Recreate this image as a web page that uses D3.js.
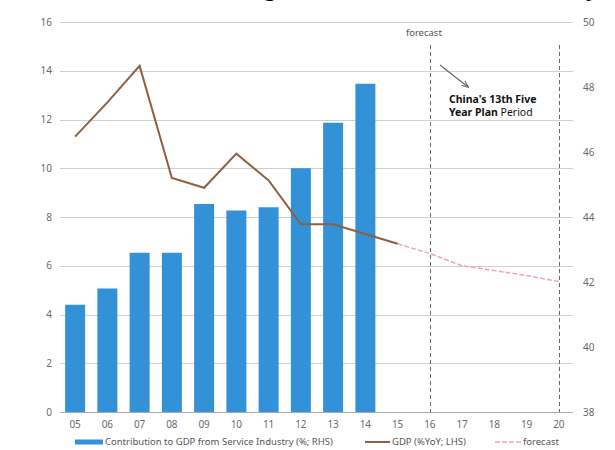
<!DOCTYPE html>
<html>
<head>
<meta charset="utf-8">
<script src="https://cdn.jsdelivr.net/npm/d3@7"></script>
<style>
  body { margin: 0; background: #fff; }
  svg { font-family: "Noto Sans", "Open Sans", sans-serif; }
</style>
</head>
<body>
<script>
// x categories (years, 2005-2020)
var years = ["05", "06", "07", "08", "09", "10", "11", "12", "13", "14", "15", "16", "17", "18", "19", "20"];
// service industry share of GDP (%; RHS), 2005-2014
var serviceYears = ["05", "06", "07", "08", "09", "10", "11", "12", "13", "14"];
var serviceShare = [41.3, 41.8, 42.9, 42.9, 44.4, 44.2, 44.3, 45.5, 46.9, 48.1];
// GDP growth (%YoY; LHS), actual
var gdpYears = ["05", "06", "07", "08", "09", "10", "11", "12", "13", "14", "15"];
var gdpValues = [11.3, 12.7, 14.2, 9.6, 9.2, 10.6, 9.5, 7.7, 7.7, 7.3, 6.9];
// GDP growth forecast
var forecastYears = ["15", "16", "17", "18", "19", "20"];
var forecastValues = [6.9, 6.5, 6.0, 5.8, 5.6, 5.35];
// tick labels
var leftTicks = [0, 2, 4, 6, 8, 10, 12, 14, 16];
var rightTicks = [38, 40, 42, 44, 46, 48, 50];
var periodMarks = ["16", "20"];

var width = 615, height = 450;
var margin = {top: 22, right: 40, bottom: 38, left: 59};
var plotRight = 575, plotBottom = 412;

var svg = d3.select("body").append("svg")
    .attr("width", width)
    .attr("height", height);

// cropped title at the very top (only its descenders show in the reference)
svg.append("text")
    .attr("x", 598)
    .attr("y", -4)
    .attr("text-anchor", "end")
    .attr("font-size", 21)
    .attr("font-weight", "bold")
    .attr("fill", "#000")
    .text("China's GDP growth and the service industry");

var x = d3.scaleBand()
    .domain(years)
    .range([margin.left, plotRight])
    .paddingInner(0.38)
    .paddingOuter(0.19);

var yLeft = d3.scaleLinear().domain([0, 16]).range([plotBottom, margin.top]);
var yRight = d3.scaleLinear().domain([38, 50]).range([plotBottom, margin.top]);

function cx(d) { return x(d) + x.bandwidth() / 2; }

// gridlines (LHS)
svg.append("g")
    .selectAll("line")
    .data(leftTicks)
    .enter().append("line")
    .attr("x1", 60)
    .attr("x2", 573)
    .attr("y1", function(d) { return Math.round(yLeft(d)) + 0.5; })
    .attr("y2", function(d) { return Math.round(yLeft(d)) + 0.5; })
    .attr("stroke", function(d) { return d === 0 ? "#a8a8a8" : "#cfcfcf"; })
    .attr("stroke-width", 1);

// left labels
svg.append("g")
    .selectAll("text")
    .data(leftTicks)
    .enter().append("text")
    .attr("x", 52)
    .attr("y", function(d) { return yLeft(d); })
    .attr("dy", "0.35em")
    .attr("text-anchor", "end")
    .attr("font-size", 10)
    .attr("fill", "#6a6a6a")
    .text(function(d) { return d; });

// right labels
svg.append("g")
    .selectAll("text")
    .data(rightTicks)
    .enter().append("text")
    .attr("x", 583)
    .attr("y", function(d) { return yRight(d); })
    .attr("dy", "0.35em")
    .attr("text-anchor", "start")
    .attr("font-size", 10)
    .attr("fill", "#6a6a6a")
    .text(function(d) { return d; });

// bars
svg.append("g")
    .selectAll("rect")
    .data(serviceYears.map(function(d, i) { return {year: d, value: serviceShare[i]}; }))
    .enter().append("rect")
    .attr("x", function(d) { return x(d.year); })
    .attr("y", function(d) { return yRight(d.value); })
    .attr("width", x.bandwidth())
    .attr("height", function(d) { return plotBottom - yRight(d.value); })
    .attr("fill", "#3391d7");

// period dashed lines
svg.append("g")
    .selectAll("line")
    .data(periodMarks)
    .enter().append("line")
    .attr("x1", function(d) { return Math.round(cx(d)) + 0.5; })
    .attr("x2", function(d) { return Math.round(cx(d)) + 0.5; })
    .attr("y1", 45)
    .attr("y2", plotBottom)
    .attr("stroke", "#666")
    .attr("stroke-width", 1)
    .attr("stroke-dasharray", "4,3");

svg.append("text")
    .attr("x", cx("16") - 6)
    .attr("y", 36)
    .attr("text-anchor", "middle")
    .attr("font-size", 9.5)
    .attr("fill", "#555")
    .text("forecast");

// GDP line
var line = d3.line()
    .x(function(d) { return cx(d.year); })
    .y(function(d) { return yLeft(d.value); });

svg.append("path")
    .datum(forecastYears.map(function(d, i) { return {year: d, value: forecastValues[i]}; }))
    .attr("d", line)
    .attr("fill", "none")
    .attr("stroke", "#eea7b2")
    .attr("stroke-width", 1.5)
    .attr("stroke-dasharray", "5,2");

svg.append("path")
    .datum(gdpYears.map(function(d, i) { return {year: d, value: gdpValues[i]}; }))
    .attr("d", line)
    .attr("fill", "none")
    .attr("stroke", "#8e5f42")
    .attr("stroke-width", 2);

// annotation arrow
var defs = svg.append("defs");
defs.append("marker")
    .attr("id", "arrow")
    .attr("viewBox", "0 0 10 10")
    .attr("refX", 9)
    .attr("refY", 5)
    .attr("markerWidth", 6)
    .attr("markerHeight", 6)
    .attr("orient", "auto")
    .append("path")
    .attr("d", "M0,1 L10,5 L0,9")
    .attr("fill", "none")
    .attr("stroke", "#666")
    .attr("stroke-width", 1.5);

svg.append("line")
    .attr("x1", 440)
    .attr("y1", 65)
    .attr("x2", 468)
    .attr("y2", 87)
    .attr("stroke", "#666")
    .attr("stroke-width", 1.2)
    .attr("marker-end", "url(#arrow)");

var note = svg.append("text")
    .attr("x", 449)
    .attr("font-size", 10.5)
    .attr("fill", "#111");
note.append("tspan")
    .attr("x", 449)
    .attr("y", 103)
    .attr("font-weight", "bold")
    .text("China's 13th Five");
note.append("tspan")
    .attr("x", 449)
    .attr("y", 116)
    .attr("font-weight", "bold")
    .text("Year Plan ");
note.append("tspan")
    .text("Period");

// x labels
svg.append("g")
    .selectAll("text")
    .data(years)
    .enter().append("text")
    .attr("x", function(d) { return cx(d); })
    .attr("y", 428)
    .attr("text-anchor", "middle")
    .attr("font-size", 10)
    .attr("fill", "#6a6a6a")
    .text(function(d) { return d; });

// legend
var legendY = 442;
svg.append("rect")
    .attr("x", 75)
    .attr("y", legendY - 2.5)
    .attr("width", 28)
    .attr("height", 5)
    .attr("fill", "#3391d7");
svg.append("text")
    .attr("x", 105)
    .attr("y", legendY)
    .attr("dy", "0.35em")
    .attr("font-size", 9.5)
    .attr("fill", "#555")
    .text("Contribution to GDP from Service Industry (%; RHS)");

svg.append("line")
    .attr("x1", 365)
    .attr("x2", 390)
    .attr("y1", legendY)
    .attr("y2", legendY)
    .attr("stroke", "#8e5f42")
    .attr("stroke-width", 2);
svg.append("text")
    .attr("x", 392)
    .attr("y", legendY)
    .attr("dy", "0.35em")
    .attr("font-size", 9.5)
    .attr("fill", "#555")
    .text("GDP (%YoY; LHS)");

svg.append("line")
    .attr("x1", 495)
    .attr("x2", 521)
    .attr("y1", legendY)
    .attr("y2", legendY)
    .attr("stroke", "#eea7b2")
    .attr("stroke-width", 1.5)
    .attr("stroke-dasharray", "5,2");
svg.append("text")
    .attr("x", 523)
    .attr("y", legendY)
    .attr("dy", "0.35em")
    .attr("font-size", 9.5)
    .attr("fill", "#555")
    .text("forecast");
</script>
</body>
</html>
